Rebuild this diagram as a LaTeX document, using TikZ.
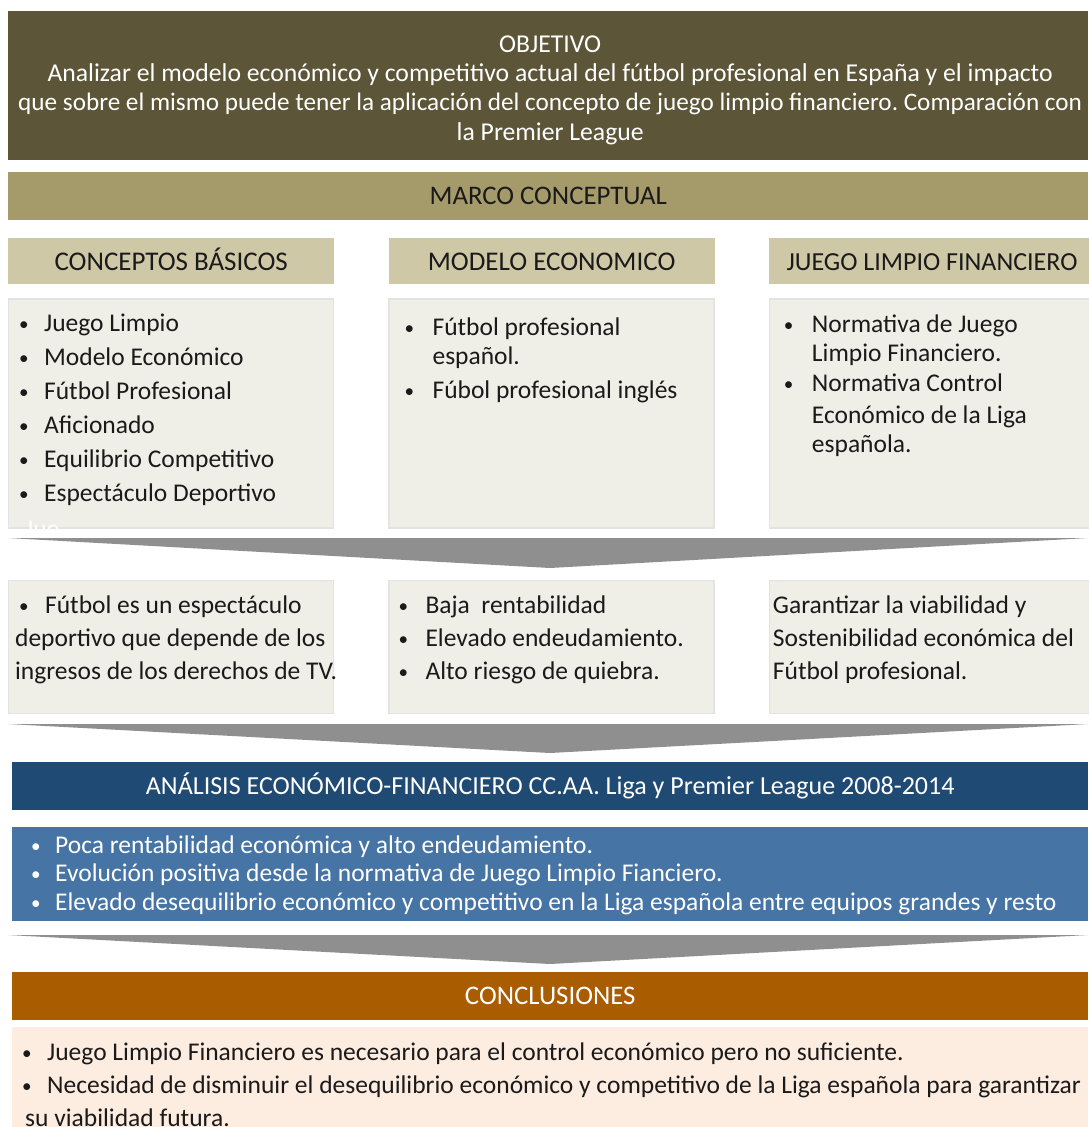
\documentclass[tikz,border=0pt]{standalone}
\usepackage{fontspec}
\setmainfont{Carlito}
\usetikzlibrary{positioning}
\frenchspacing

\definecolor{objfill}{HTML}{5C5538}
\definecolor{marcofill}{HTML}{A59A6A}
\definecolor{headfill}{HTML}{CEC8A6}
\definecolor{cardfill}{HTML}{EFEEE7}
\definecolor{cardline}{HTML}{E2E4E4}
\definecolor{chevfill}{HTML}{8F8F8F}
\definecolor{anafill}{HTML}{1F4A73}
\definecolor{resfill}{HTML}{4674A5}
\definecolor{concfill}{HTML}{AA5C00}
\definecolor{finfill}{HTML}{FDECE0}
\definecolor{ink}{HTML}{1A1A1A}

% bullet with a fixed hanging width
\newcommand{\bul}[1][25pt]{\makebox[#1][l]{\raisebox{1pt}{\scalebox{0.75}{•}}}}

\begin{document}
\begin{tikzpicture}[x=1pt, y=-1pt,
  band/.style={anchor=north west, inner sep=0pt, minimum width=1080pt, minimum height=48pt, font=\fontsize{26.8}{30}\selectfont},
  head/.style={inner sep=0pt, minimum width=326pt, minimum height=46pt, fill=headfill, text=ink, text height=19.4pt, text depth=0pt, font=\fontsize{27}{30}\selectfont},
  card/.style={inner sep=0pt, minimum width=325pt, fill=cardfill, draw=cardline, line width=1.5pt},
  items/.style={anchor=north west, inner sep=0pt, align=left, text=ink, font=\fontsize{25.5}{29}\selectfont},
  chevron/.style={fill=chevfill}
]
\path[use as bounding box, fill=white] (0,0) rectangle (1088,1127);

% objetivo y marco conceptual
\node[band, minimum height=149pt, fill=objfill] (obj) at (8,11) {};
\node[text=white, align=center, inner sep=0pt, font=\fontsize{25.7}{29.3}\selectfont] (objtxt) at ([shift={(2,4.5)}]obj.center)
  {OBJETIVO\\
   Analizar el modelo económico y competitivo actual del fútbol profesional en España y el impacto\\
   {\fontsize{25.2}{29.3}\selectfont que sobre el mismo puede tener la aplicación del concepto de juego limpio financiero. Comparación con}\\
   la Premier League};
\node[band, fill=marcofill, text=ink, below=11pt of obj] (marco) {MARCO CONCEPTUAL};

% tres columnas
\node[head, anchor=north west] (hdA) at (8,238) {CONCEPTOS BÁSICOS};
\node[head, right=54pt of hdA] (hdB) {MODELO ECONOMICO};
\node[head, right=54pt of hdB, font=\fontsize{26}{30}\selectfont] (hdC) {JUEGO LIMPIO FINANCIERO};

\node[card, minimum height=229pt, below=14pt of hdA] (cardA) {};
\node[card, minimum height=229pt, below=14pt of hdB] (cardB) {};
\node[card, minimum height=229pt, below=14pt of hdC] (cardC) {};

\node[items] (lstA) at ([shift={(11,15.5)}]cardA.north west)
  {\bul Juego Limpio\\[5pt]
   \bul Modelo Económico\\[5pt]
   \bul Fútbol Profesional\\[5pt]
   \bul Aficionado\\[5pt]
   \bul Equilibrio Competitivo\\[5pt]
   \bul Espectáculo Deportivo};
\node[items] (lstB) at ([shift={(16,19)}]cardB.north west)
  {\bul[28pt]Fútbol profesional\\
   \hspace*{28pt}español.\\[5pt]
   \bul[28pt]Fúbol profesional inglés};
\node[items] (lstC) at ([shift={(15,16)}]cardC.north west)
  {\bul[28pt]Normativa de Juego\\
   \hspace*{28pt}Limpio Financiero.\\[1pt]
   \bul[28pt]Normativa Control\\[3pt]
   \hspace*{28pt}Económico de la Liga\\
   \hspace*{28pt}española.};
\begin{scope}
  \clip (cardA.north west) rectangle (cardA.south east);
  \node[text=white, anchor=base west, inner sep=0pt, font=\fontsize{25.5}{30}\selectfont] (jue) at (25,537) {Jue};
\end{scope}

\fill[chevron] (8,538) -- (1088,538) -- (550,568) -- cycle;

% segunda fila
\node[card, minimum height=133pt, below=51pt of cardA] (rowA) {};
\node[card, minimum height=133pt, below=51pt of cardB] (rowB) {};
\node[card, minimum height=133pt, below=51pt of cardC] (rowC) {};

\node[items, font=\fontsize{25.5}{33}\selectfont] (txtA) at ([shift={(7,15.6)}]rowA.north west)
  {\hspace*{4pt}\bul[26pt]Fútbol es un espectáculo\\
   deportivo que depende de los\\
   ingresos de los derechos de TV.};
\node[items, font=\fontsize{25.5}{33}\selectfont] (txtB) at ([shift={(10,15.6)}]rowB.north west)
  {\bul[27pt]Baja\ \ rentabilidad\\
   \bul[27pt]Elevado endeudamiento.\\
   \bul[27pt]Alto riesgo de quiebra.};
\node[items, font=\fontsize{25.5}{33}\selectfont] (txtC) at ([shift={(4,15.6)}]rowC.north west)
  {Garantizar la viabilidad y\\
   Sostenibilidad económica del\\
   Fútbol profesional.};

\fill[chevron] (8,724) -- (1088,724) -- (550,753) -- cycle;

% analisis
\node[band, minimum width=1076pt, fill=anafill, text=white, font=\fontsize{26}{30}\selectfont] (ana) at (12,762)
  {ANÁLISIS ECONÓMICO-FINANCIERO CC.AA. Liga y Premier League 2008-2014};
\node[band, minimum width=1076pt, minimum height=94pt, fill=resfill, below=16pt of ana] (res) {};
\node[items, text=white, font=\fontsize{25.5}{28.5}\selectfont] (resl) at ([shift={(19,9)}]res.north west)
  {\bul[24pt]Poca rentabilidad económica y alto endeudamiento.\\
   \bul[24pt]Evolución positiva desde la normativa de Juego Limpio Fianciero.\\
   \bul[24pt]Elevado desequilibrio económico y competitivo en la Liga española entre equipos grandes y resto};

\fill[chevron] (8,935) -- (1088,935) -- (550,964) -- cycle;

% conclusiones
\node[band, minimum width=1076pt, fill=concfill, text=white] (concl) at (12,972) {CONCLUSIONES};
\node[band, minimum width=1076pt, minimum height=110pt, fill=finfill, below=6pt of concl] (fin) {};
\node[items, font=\fontsize{25.5}{33}\selectfont] (finl) at ([shift={(10,16)}]fin.north west)
  {\bul Juego Limpio Financiero es necesario para el control económico pero no suficiente.\\
   \bul Necesidad de disminuir el desequilibrio económico y competitivo de la Liga española para garantizar\\
   \hspace*{3pt}su viabilidad futura.};
\end{tikzpicture}
\end{document}
